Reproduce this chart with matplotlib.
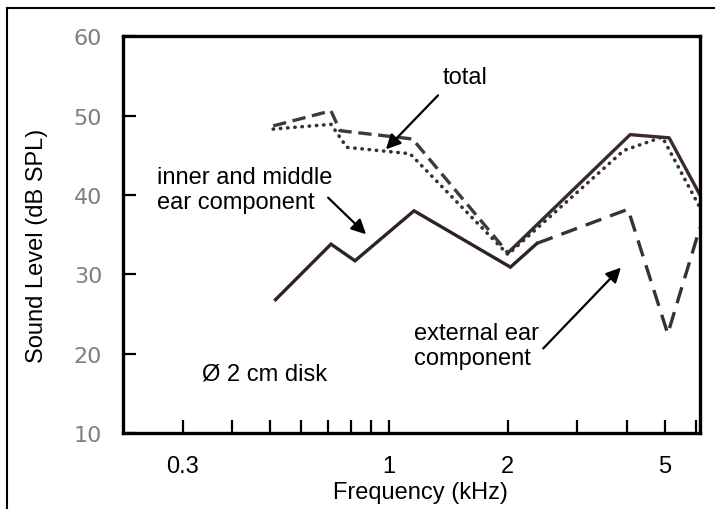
import matplotlib
matplotlib.use('Agg')
import matplotlib.pyplot as plt
from matplotlib.lines import Line2D

plt.rcParams['font.family'] = ['Liberation Sans', 'DejaVu Sans']

# upper dashed curve (total, 0.5 - 2 kHz)
total_dash_f = [0.509, 0.713, 0.751, 1.147, 2.0]
total_dash_db = [48.7, 50.6, 48.1, 47.05, 32.7]

# total, solid part above 2 kHz
total_solid_f = [2.0, 4.08, 5.12, 6.13]
total_solid_db = [32.7, 47.6, 47.2, 40.0]

# dotted curve
dotted_f = [0.509, 0.713, 0.782, 1.13, 2.0, 3.93, 4.92, 6.13]
dotted_db = [48.3, 48.9, 46.0, 45.2, 32.5, 45.6, 47.3, 38.4]

# inner and middle ear component
inner_f = [0.516, 0.713, 0.82, 1.157, 2.03, 2.37]
inner_db = [26.8, 33.8, 31.7, 38.0, 30.9, 33.9]

# external ear component
external_f = [2.37, 4.03, 5.08, 6.13]
external_db = [33.9, 38.2, 22.5, 35.9]

xticks = [0.3, 0.4, 0.5, 0.6, 0.7, 0.8, 0.9, 1, 2, 3, 4, 5, 6]
xtick_labels = ['0.3', '', '', '', '', '', '', '1', '2', '', '', '5', '']
yticks = [10, 20, 30, 40, 50, 60]

fig = plt.figure(figsize=(7.15, 5.1), dpi=100)
ax = fig.add_axes([0.172, 0.149, 0.807, 0.778])

ax.plot(inner_f, inner_db, color='#2e2222', lw=2.4, solid_joinstyle='miter')
ax.plot(dotted_f, dotted_db, color='#2f3530', lw=2.6, linestyle=(0, (0.1, 1.9)),
        dash_capstyle='round')
ax.plot(total_dash_f, total_dash_db, color='#3a3d34', lw=2.4, linestyle=(0, (4, 2)))
ax.plot(total_solid_f, total_solid_db, color='#3a2a2c', lw=2.4)
ax.plot(external_f, external_db, color='#333333', lw=2.4, linestyle=(0, (5, 2.8)))

ax.set_xscale('log')
ax.set_xlim(0.212, 6.13)
ax.set_ylim(10, 60)
ax.set_xticks(xticks)
ax.set_xticklabels(xtick_labels)
ax.xaxis.set_minor_locator(matplotlib.ticker.NullLocator())
ax.set_yticks(yticks)
ax.tick_params(axis='both', direction='in', length=9.5, width=1.6, pad=16)
ax.tick_params(axis='x', labelsize=17)
ax.tick_params(axis='y', labelsize=16, labelcolor='#7f7f7f', pad=15)
for lab in ax.get_yticklabels():
    lab.set_family('DejaVu Sans')
for sp in ax.spines.values():
    sp.set_linewidth(2.4)

ax.set_xlabel('Frequency (kHz)', fontsize=17)
ax.set_ylabel('Sound Level (dB SPL)', fontsize=17)
ax.xaxis.set_label_coords(0.515, -0.12)
ax.yaxis.set_label_coords(-0.13, 0.474)

arrow = dict(arrowstyle='-|>', color='black', lw=1.6, mutation_scale=22)
ax.text(1.557, 54.9, 'total', fontsize=17, ha='center', va='center')
ax.annotate('', xy=(0.971, 45.5), xytext=(1.346, 52.8), arrowprops=arrow)
ax.text(0.259, 40.7, 'inner and middle\near component', fontsize=17,
        ha='left', va='center', linespacing=1.2)
ax.annotate('', xy=(0.885, 34.8), xytext=(0.693, 39.9), arrowprops=arrow)
ax.text(1.157, 21.0, 'external ear\ncomponent', fontsize=17,
        ha='left', va='center', linespacing=1.2)
ax.annotate('', xy=(3.91, 31.1), xytext=(2.43, 20.4), arrowprops=arrow)
ax.text(0.336, 17.5, 'Ø 2 cm disk', fontsize=17, ha='left', va='center')

# outer frame (top and left edges)
fig.add_artist(Line2D([7 / 715, 1], [1 - 9 / 510, 1 - 9 / 510], color='black', lw=1.5))
fig.add_artist(Line2D([7 / 715, 7 / 715], [0, 1 - 9 / 510], color='black', lw=1.5))

fig.savefig('out.png', dpi=100)
